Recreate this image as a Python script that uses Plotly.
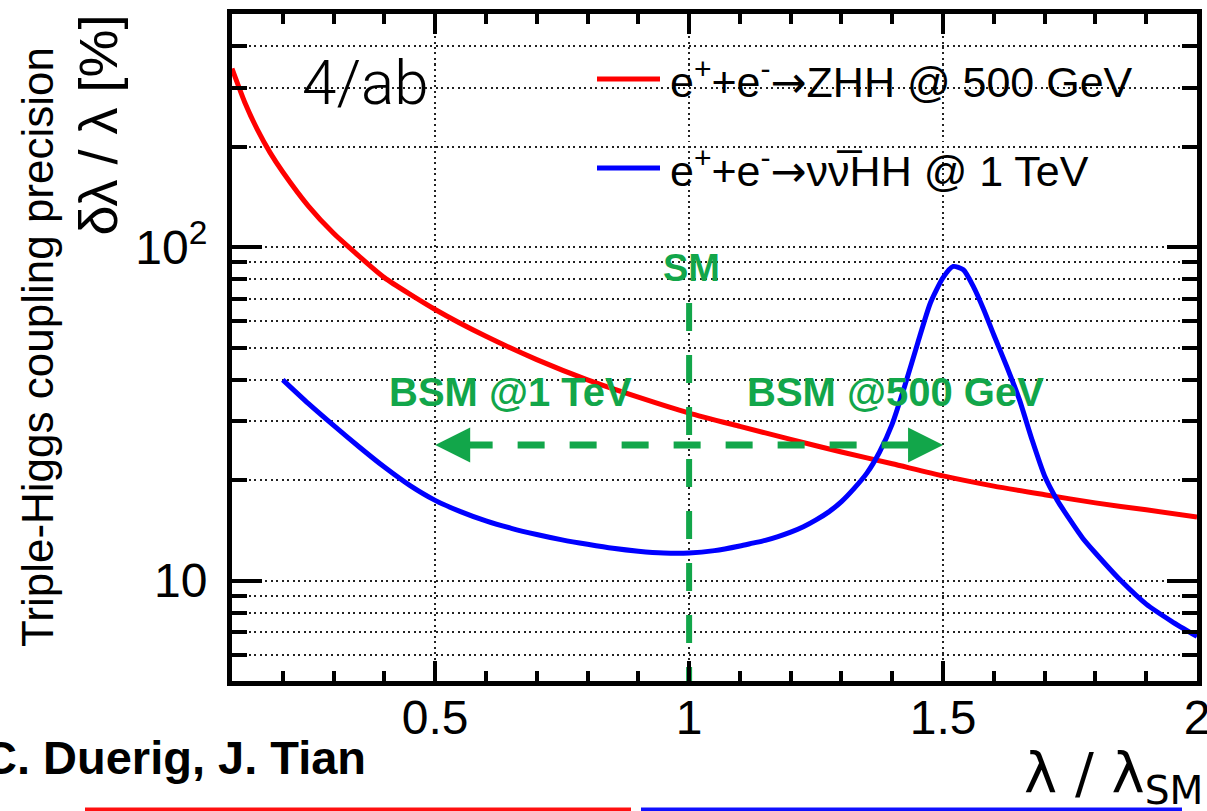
import numpy as np
import plotly.graph_objects as go

# Triple-Higgs coupling precision vs. lambda / lambda_SM
lam_zhh = [0.10, 0.125, 0.15, 0.175, 0.20, 0.25, 0.30, 0.35, 0.40, 0.50, 0.60, 0.70,
           0.80, 0.90, 1.00, 1.10, 1.20, 1.30, 1.40, 1.50, 1.60, 1.70, 1.80, 1.90, 2.00]
prec_zhh = [343, 272, 225, 192, 168, 133, 110, 94, 81, 65, 54, 46,
            40, 35.5, 31.8, 29.0, 26.5, 24.3, 22.4, 20.6, 19.2, 18.1, 17.1, 16.3, 15.5]

lam_vvhh = [0.20, 0.25, 0.30, 0.35, 0.40, 0.45, 0.50, 0.55, 0.60, 0.65, 0.70, 0.75, 0.80,
            0.85, 0.90, 0.95, 1.00, 1.05, 1.10, 1.125, 1.15, 1.175, 1.20, 1.225, 1.25,
            1.275, 1.30, 1.325, 1.35, 1.375, 1.40, 1.425, 1.45, 1.475, 1.50, 1.52, 1.54,
            1.56, 1.58, 1.60, 1.625, 1.65, 1.675, 1.70, 1.725, 1.75, 1.775, 1.80, 1.85,
            1.90, 1.95, 2.00]
prec_vvhh = [40, 34, 29.2, 25.2, 21.9, 19.3, 17.4, 16.1, 15.1, 14.35, 13.75, 13.25, 12.85,
             12.5, 12.25, 12.1, 12.1, 12.3, 12.7, 12.95, 13.2, 13.55, 13.97, 14.5, 15.2,
             16.07, 17.25, 18.9, 21.0, 24.3, 29.5, 38.5, 51.5, 68, 81, 87.5, 85.5,
             76, 65, 54.5, 44, 35, 26.5, 20.6, 17.4, 15.2, 13.4, 12.1, 10.0,
             8.5, 7.55, 6.8]

ARROW = "<span style=\"font-family:'DejaVu Sans'\">\u2192</span>"
series_names = [f"e<sup>+</sup>+e<sup>-</sup>{ARROW}ZHH @ 500 GeV",
                f"e<sup>+</sup>+e<sup>-</sup>{ARROW}\u03bd\u03bd\u0305HH @ 1 TeV"]

x_range = [0.1, 2.0]
y_range = [5, 500]
x_major = [0.5, 1, 1.5, 2]
x_major_text = ["0.5", "1", "1.5", "2"]
x_minor = [0.2, 0.3, 0.4, 0.6, 0.7, 0.8, 0.9, 1.1, 1.2, 1.3, 1.4, 1.6, 1.7, 1.8, 1.9]
y_major = [10, 100]
y_major_text = ["10", "10<sup>2</sup>"]
y_minor = [6, 7, 8, 9, 20, 30, 40, 50, 60, 70, 80, 90, 200, 300, 400]

sm_lambda = 1.0
sm_line_top = 68
bsm_1tev_edge = 0.5
bsm_500_edge = 1.5
arrow_level = 25.5

W, H = 1207, 811
ML, MR, MT, MB = 232, 10, 14, 130


def px(x):
    return (x - ML) / (W - ML - MR)


def py(y):
    return (H - MB - y) / (H - MT - MB)


GREEN = "#12a64a"
FONT = "Liberation Sans"

fig = go.Figure()

fig.add_trace(go.Scatter(x=lam_zhh, y=prec_zhh, mode="lines", name=series_names[0],
                         line=dict(color="#ff0000", width=5, shape="spline", smoothing=0.6),
                         showlegend=False))
fig.add_trace(go.Scatter(x=lam_vvhh, y=prec_vvhh, mode="lines", name=series_names[1],
                         line=dict(color="#0000ff", width=5, shape="spline", smoothing=0.6),
                         showlegend=False))

# SM reference line and BSM reach arrow
fig.add_trace(go.Scatter(x=[sm_lambda, sm_lambda], y=[sm_line_top, y_range[0]], mode="lines",
                         line=dict(color=GREEN, width=6, dash="28px,24px"),
                         showlegend=False, hoverinfo="skip"))
fig.add_trace(go.Scatter(x=[bsm_1tev_edge + 0.06, bsm_500_edge - 0.06],
                         y=[arrow_level, arrow_level], mode="lines",
                         line=dict(color=GREEN, width=7, dash="27px,25px"),
                         showlegend=False, hoverinfo="skip"))

annotations = []
for tip, off in ((bsm_1tev_edge, 30), (bsm_500_edge, -30)):
    annotations.append(dict(x=tip, y=np.log10(arrow_level), xref="x", yref="y", text="",
                            showarrow=True, ax=off, ay=0, axref="pixel", ayref="pixel",
                            arrowhead=2, arrowsize=1.0, arrowwidth=7, arrowcolor=GREEN,
                            standoff=0, startstandoff=0))


def label(text, x, y, size, color="black", xanchor="center", yanchor="middle",
          bold=False, family=FONT, weight=None, angle=0):
    f = dict(family=family, size=size, color=color)
    if weight is not None:
        f["weight"] = weight
    annotations.append(dict(text=f"<b>{text}</b>" if bold else text,
                            x=px(x), y=py(y), xref="paper", yref="paper",
                            xanchor=xanchor, yanchor=yanchor, showarrow=False,
                            font=f, textangle=angle))


label("SM", 691, 268, 38, GREEN, bold=True)
label("BSM @1 TeV", 510, 392, 40, GREEN, bold=True)
label("BSM @500 GeV", 895, 392, 40, GREEN, bold=True)
label("4/ab", 300, 82, 62, xanchor="left", family="Roboto", weight=300)

# legend
legend_rows = [(series_names[0], "#ff0000", 79), (series_names[1], "#0000ff", 168)]
shapes = []
for text, color, yy in legend_rows:
    shapes.append(dict(type="line", xref="paper", yref="paper", x0=px(597), x1=px(660),
                       y0=py(yy), y1=py(yy), line=dict(color=color, width=5)))
    label(text, 668, yy, 43, xanchor="left")

# axis titles and credit
label("\u03b4\u03bb / \u03bb [%]", 97, 13, 54, yanchor="top", angle=-90)
label("Triple-Higgs coupling precision", 37, 45, 44, yanchor="top", angle=-90)
label("\u03bb / \u03bb<sub>SM</sub>", 1205, 776, 56, xanchor="right", family="DejaVu Sans")
label("C. Duerig, J. Tian", 368, 757, 47, xanchor="right", bold=True)

# coloured strips along the bottom edge
shapes.append(dict(type="rect", xref="paper", yref="paper", x0=px(85), x1=px(631),
                   y0=py(811), y1=py(807.5), line=dict(width=0), fillcolor="#ff1010"))
shapes.append(dict(type="rect", xref="paper", yref="paper", x0=px(641), x1=px(1182),
                   y0=py(811), y1=py(807.5), line=dict(width=0), fillcolor="#1010ff"))

grid_style = dict(showgrid=True, gridcolor="#222222", gridwidth=1.6, griddash="2px,3.5px")
tick_font = dict(family=FONT, size=48, color="black")

fig.update_layout(
    width=W, height=H, autosize=False,
    margin=dict(l=ML, r=MR, t=MT, b=MB, pad=0, autoexpand=False),
    paper_bgcolor="white", plot_bgcolor="white",
    showlegend=False,
    annotations=annotations,
    shapes=shapes,
    xaxis=dict(type="linear", range=x_range, tickmode="array", tickvals=x_major,
               ticktext=x_major_text, ticks="inside", ticklen=20, tickwidth=4,
               tickcolor="black", showline=True, linewidth=5, linecolor="black",
               mirror="allticks", zeroline=False, tickfont=tick_font, automargin=False,
               ticklabelstandoff=-10, ticklabeloverflow="allow", **grid_style,
               minor=dict(tickvals=x_minor, ticks="inside", ticklen=10, tickwidth=4,
                          tickcolor="black", showgrid=False)),
    yaxis=dict(type="log", range=[np.log10(y_range[0]), np.log10(y_range[1])],
               tickmode="array", tickvals=y_major, ticktext=y_major_text,
               ticks="inside", ticklen=30, tickwidth=4, tickcolor="black",
               showline=True, linewidth=5, linecolor="black", mirror="allticks",
               zeroline=False, tickfont=tick_font, ticklabelstandoff=10, automargin=False,
               **grid_style,
               minor=dict(tickvals=y_minor, ticks="inside", ticklen=15, tickwidth=4,
                          tickcolor="black", showgrid=True, gridcolor="#222222",
                          gridwidth=1.6, griddash="2px,3.5px")),
)

fig.write_html(
    "out.html",
    config={"responsive": False},
    post_script=("document.documentElement.style.overflow='hidden';"
                 "document.body.style.margin='0';"
                 "document.body.style.overflow='hidden';"),
)
